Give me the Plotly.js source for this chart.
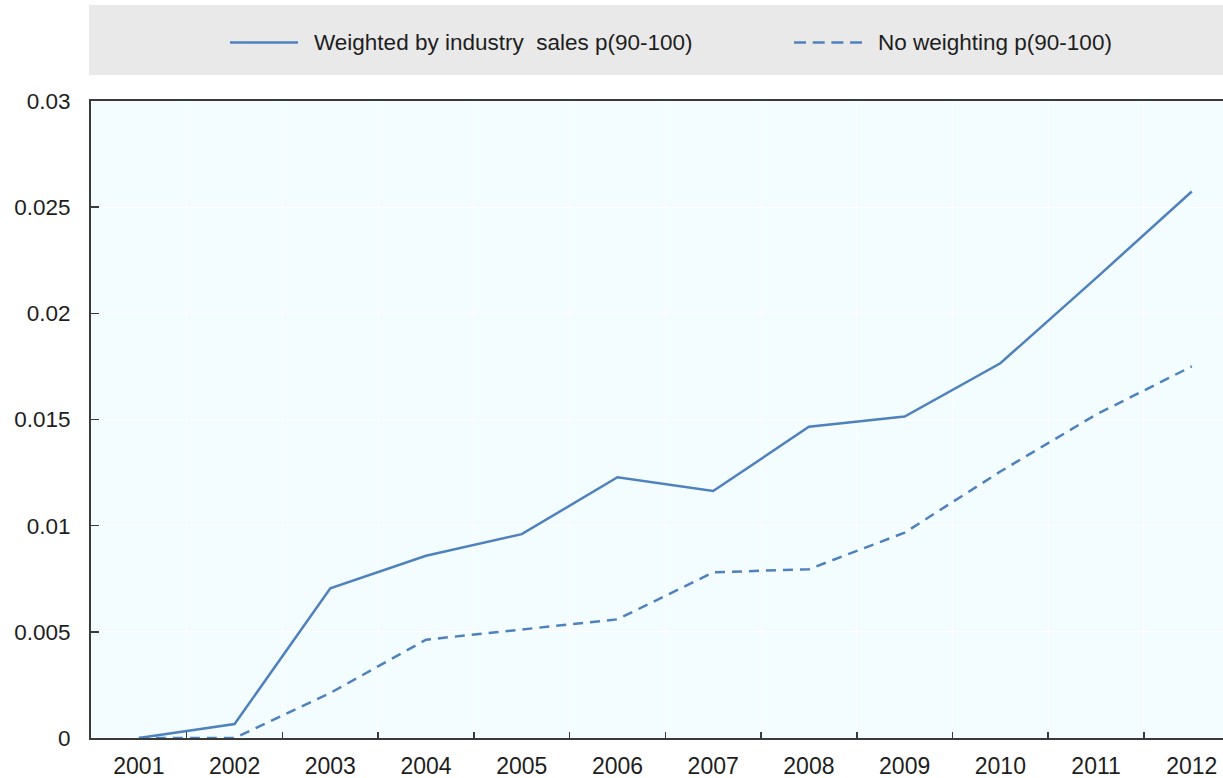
<!DOCTYPE html>
<html>
<head>
<meta charset="utf-8">
<script src="https://cdn.plot.ly/plotly-3.0.1.min.js"></script>
<style>
  html, body { margin: 0; padding: 0; background: #ffffff; overflow: hidden; }
  #chart { width: 1223px; height: 778px; }
</style>
</head>
<body>
<div id="chart"></div>
<script>
// ---- data ----
const years = ['2001', '2002', '2003', '2004', '2005', '2006', '2007', '2008', '2009', '2010', '2011', '2012'];
const weightedBySales = [0, 0.00066, 0.00705, 0.00858, 0.0096, 0.01228, 0.01163, 0.01466, 0.01514, 0.01765, 0.02166, 0.02574];
const noWeighting = [0, 0, 0.00212, 0.00463, 0.00511, 0.00559, 0.0078, 0.00795, 0.00967, 0.01255, 0.01523, 0.0175];
const seriesNames = ['Weighted by industry  sales p(90-100)', 'No weighting p(90-100)'];
const yTickValues = [0, 0.005, 0.01, 0.015, 0.02, 0.025, 0.03];

// ---- layout geometry ----
const W = 1223, H = 778;
const M = { l: 91, r: 0, t: 101, b: 40 };
const plotW = W - M.l - M.r, plotH = H - M.t - M.b;
const px2x = p => (p - M.l) / plotW;          // pixel -> paper x
const px2y = p => (H - M.b - p) / plotH;      // pixel -> paper y

const lineColor = '#4F81BD';
const textColor = '#1e1e1e';
const fontFamily = '"Liberation Sans", Arial, sans-serif';

const traces = [
  {
    type: 'scatter', mode: 'lines', x: years, y: weightedBySales, name: seriesNames[0],
    line: { color: lineColor, width: 2.5 }, showlegend: false, hoverinfo: 'x+y'
  },
  {
    type: 'scatter', mode: 'lines', x: years, y: noWeighting, name: seriesNames[1],
    line: { color: lineColor, width: 2.5, dash: '10px,7px' }, showlegend: false, hoverinfo: 'x+y'
  }
];

const legendY = px2y(42.5);
const layout = {
  width: W, height: H,
  margin: M,
  paper_bgcolor: '#ffffff',
  plot_bgcolor: '#F3FDFF',
  font: { family: fontFamily, size: 22.5, color: textColor },
  showlegend: false,
  xaxis: {
    type: 'category',
    range: [-0.5, 11.326],
    tickson: 'boundaries',
    ticks: 'inside', ticklen: 6, tickwidth: 1.5, tickcolor: '#3a3a3a',
    showline: true, linecolor: '#3a3a3a', linewidth: 2, mirror: true,
    showgrid: true, gridcolor: '#ffffff', gridwidth: 1,
    tickfont: { family: fontFamily, size: 23, color: textColor },
    ticklabelstandoff: 6,
    automargin: false, fixedrange: true, zeroline: false
  },
  yaxis: {
    range: [0, 0.03],
    tickvals: yTickValues,
    ticks: 'inside', ticklen: 8, tickwidth: 1.5, tickcolor: '#3a3a3a',
    showline: true, linecolor: '#3a3a3a', linewidth: 2,
    showgrid: true, gridcolor: '#ffffff', gridwidth: 1,
    zeroline: false,
    tickfont: { family: fontFamily, size: 22.5, color: textColor },
    ticklabelstandoff: 14,
    automargin: false, fixedrange: true
  },
  shapes: [
    // grey legend band
    { type: 'rect', xref: 'paper', yref: 'paper', x0: px2x(89), x1: px2x(1223), y0: px2y(75), y1: px2y(5),
      fillcolor: '#E9E9E9', line: { width: 0 }, layer: 'below' },
    // legend samples
    { type: 'line', xref: 'paper', yref: 'paper', x0: px2x(230), x1: px2x(298), y0: legendY, y1: legendY,
      line: { color: lineColor, width: 2.5 } },
    { type: 'line', xref: 'paper', yref: 'paper', x0: px2x(794), x1: px2x(862), y0: legendY, y1: legendY,
      line: { color: lineColor, width: 2.5, dash: '12px,6.7px' } }
  ],
  annotations: [
    { xref: 'paper', yref: 'paper', x: px2x(312), y: legendY, xanchor: 'left', yanchor: 'middle',
      text: seriesNames[0], showarrow: false, font: { family: fontFamily, size: 22.5, color: textColor } },
    { xref: 'paper', yref: 'paper', x: px2x(876), y: legendY, xanchor: 'left', yanchor: 'middle',
      text: seriesNames[1], showarrow: false, font: { family: fontFamily, size: 22.5, color: textColor } }
  ]
};

Plotly.newPlot('chart', traces, layout, { displayModeBar: false, staticPlot: true });
</script>
</body>
</html>
